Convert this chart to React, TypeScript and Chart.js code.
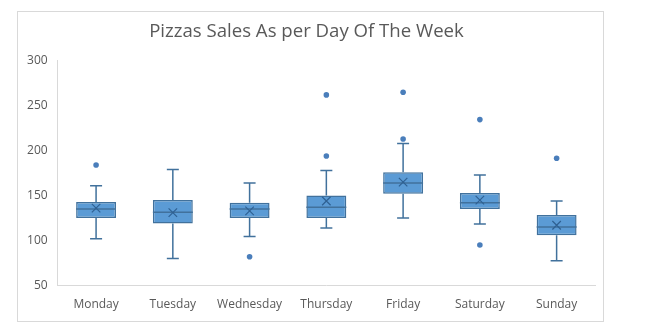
import React, { useEffect, useRef } from "react";
import { Chart, registerables } from "chart.js";

Chart.register(...registerables);

const days = ["Monday", "Tuesday", "Wednesday", "Thursday", "Friday", "Saturday", "Sunday"];
const whiskerMin = [102, 80, 104.5, 114, 125, 118.5, 77.5];
const q1 = [125, 119, 125, 125, 152, 135, 106];
const median = [135, 131.5, 135, 137, 164, 142, 115];
const q3 = [143, 145, 142, 150, 176, 153, 128.5];
const whiskerMax = [161, 179, 164, 178, 208, 173, 144];
const means = [136, 131, 133, 144, 165, 145, 117];
const outlierDays = ["Monday", "Wednesday", "Thursday", "Thursday", "Friday", "Friday", "Saturday", "Saturday", "Sunday"];
const outlierValues = [184, 82, 262, 194, 265, 213, 234.5, 95, 191.5];
const yTicks = [50, 100, 150, 200, 250, 300];
const title = "Pizzas Sales As per Day Of The Week";

const BOX_FILL = "#5B9BD5";
const BOX_LINE = "#41719C";
const TEXT = "#595959";
const FONT = "'Open Sans', 'Liberation Sans', sans-serif";

const boxPlugin = {
  id: "boxWhiskers",
  afterDatasetDraw(chart: any, args: any) {
    if (args.index !== 0) return;
    const ctx = chart.ctx;
    const y = chart.scales.y;
    const meta = chart.getDatasetMeta(0);
    ctx.save();
    ctx.strokeStyle = BOX_LINE;
    ctx.lineWidth = 1.5;
    meta.data.forEach((bar: any, i: number) => {
      const cx = bar.x;
      const half = bar.width / 2;
      const cap = 6;
      const yMin = y.getPixelForValue(whiskerMin[i]);
      const yMax = y.getPixelForValue(whiskerMax[i]);
      const yQ1 = y.getPixelForValue(q1[i]);
      const yQ3 = y.getPixelForValue(q3[i]);
      const yMed = y.getPixelForValue(median[i]);
      ctx.beginPath();
      ctx.moveTo(cx, yQ3);
      ctx.lineTo(cx, yMax);
      ctx.moveTo(cx - cap, yMax);
      ctx.lineTo(cx + cap, yMax);
      ctx.moveTo(cx, yQ1);
      ctx.lineTo(cx, yMin);
      ctx.moveTo(cx - cap, yMin);
      ctx.lineTo(cx + cap, yMin);
      ctx.moveTo(cx - half, yMed);
      ctx.lineTo(cx + half, yMed);
      ctx.stroke();
    });
    ctx.restore();
  },
};

export default function App() {
  const ref = useRef<HTMLCanvasElement | null>(null);

  useEffect(() => {
    if (!ref.current) return;
    const chart = new Chart(ref.current, {
      type: "bar",
      data: {
        labels: days,
        datasets: [
          {
            type: "bar",
            label: "Box",
            data: days.map((_, i) => [q1[i], q3[i]]) as any,
            backgroundColor: BOX_FILL,
            borderColor: BOX_LINE,
            borderWidth: 1.5,
            borderSkipped: false,
            barPercentage: 0.52,
            categoryPercentage: 1,
            order: 3,
          } as any,
          {
            type: "line",
            label: "Mean",
            data: means,
            showLine: false,
            pointStyle: "crossRot",
            pointRadius: 6,
            pointBorderColor: "#2F6193",
            pointBorderWidth: 1.2,
            pointBackgroundColor: "transparent",
            order: 1,
          } as any,
          {
            type: "line",
            label: "Outliers",
            data: outlierDays.map((d, i) => ({ x: d, y: outlierValues[i] })),
            showLine: false,
            pointStyle: "circle",
            pointRadius: 2.8,
            pointBackgroundColor: "#4A7EBB",
            pointBorderColor: "#4A7EBB",
            pointBorderWidth: 0,
            order: 2,
          } as any,
        ],
      },
      options: {
        animation: false,
        responsive: true,
        maintainAspectRatio: false,
        layout: { padding: { left: 0, right: 8, top: 0, bottom: 0 } },
        plugins: {
          legend: { display: false },
          tooltip: { enabled: false },
          title: {
            display: true,
            text: title,
            color: TEXT,
            font: { family: FONT, size: 18.6, weight: "normal" },
            padding: { top: 9, bottom: 17.4 },
          },
        },
        scales: {
          x: {
            type: "category",
            grid: { display: false, drawTicks: false },
            border: { display: true, color: "#D9D9D9", width: 1 },
            ticks: {
              color: TEXT,
              font: { family: FONT, size: 12 },
              padding: 12,
              maxRotation: 0,
            },
            afterFit(scale: any) {
              scale.height = 35.5;
            },
          },
          y: {
            type: "linear",
            min: 50,
            max: 300,
            grid: { display: false, drawTicks: false },
            border: { display: true, color: "#D9D9D9", width: 1 },
            afterBuildTicks(scale: any) {
              scale.ticks = yTicks.map((v) => ({ value: v }));
            },
            ticks: {
              color: TEXT,
              font: { family: FONT, size: 12 },
              padding: 10,
            },
            afterFit(scale: any) {
              scale.width = 39.7;
            },
          },
        },
      },
      plugins: [boxPlugin],
    });
    return () => chart.destroy();
  }, []);

  return (
    <div
      style={{
        position: "absolute",
        left: 0,
        top: 0,
        width: 650,
        height: 333,
        background: "#ffffff",
      }}
    >
      <div
        style={{
          position: "absolute",
          left: 17,
          top: 11,
          width: 587,
          height: 311,
          boxSizing: "border-box",
          border: "1px solid #D9D9D9",
        }}
      >
        <div style={{ position: "relative", width: 585, height: 309 }}>
          <canvas ref={ref} />
        </div>
      </div>
    </div>
  );
}
